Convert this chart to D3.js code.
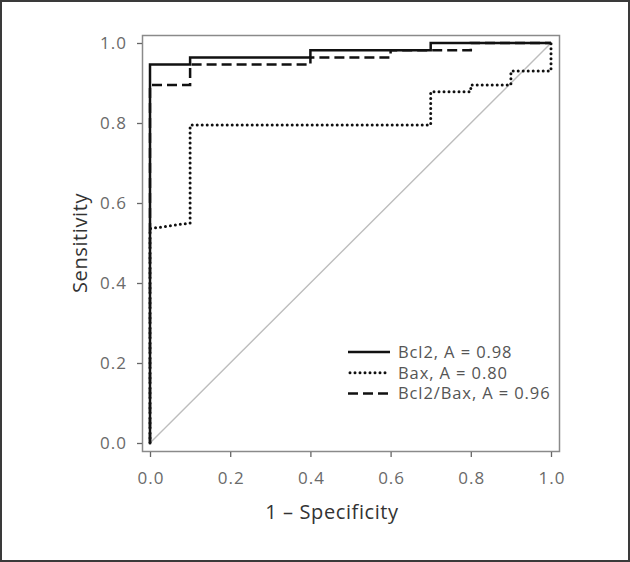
<!DOCTYPE html>
<html>
<head>
<meta charset="utf-8">
<script src="https://cdn.jsdelivr.net/npm/d3@7"></script>
<style>
  html, body { margin: 0; padding: 0; background: #fff; }
  svg { display: block; font-family: "Open Sans", sans-serif; }
</style>
</head>
<body>
<div id="chart"></div>
<script>
// ROC step curves
const bcl2X = [0, 0, 0.1, 0.1, 0.4, 0.4, 0.7, 0.7, 1.0]
const bcl2Y = [0, 0.946, 0.946, 0.964, 0.964, 0.982, 0.982, 1.0, 1.0]

const baxX = [0, 0, 0.1, 0.1, 0.7, 0.7, 0.8, 0.8, 0.9, 0.9, 1.0, 1.0]
const baxY = [0, 0.536, 0.55, 0.795, 0.795, 0.878, 0.878, 0.895, 0.895, 0.93, 0.93, 1.0]

const ratioX = [0, 0, 0.1, 0.1, 0.4, 0.4, 0.6, 0.6, 0.8, 0.8, 1.0]
const ratioY = [0, 0.895, 0.895, 0.946, 0.946, 0.964, 0.964, 0.982, 0.982, 1.0, 1.0]

const seriesNames = ["Bcl2, A = 0.98", "Bax, A = 0.80", "Bcl2/Bax, A = 0.96"]
const tickValues = [0, 0.2, 0.4, 0.6, 0.8, 1.0]

const width = 630
const height = 562
const font = "'Open Sans', sans-serif"

const svg = d3.select("#chart")
    .append("svg")
    .attr("width", width)
    .attr("height", height)

// outer frame
svg.append("rect")
    .attr("x", 1).attr("y", 1)
    .attr("width", width - 2).attr("height", height - 2)
    .attr("fill", "#fff")
    .attr("stroke", "#3a3a3a")
    .attr("stroke-width", 2)

const x = d3.scaleLinear().domain([0, 1]).range([150, 551])
const y = d3.scaleLinear().domain([0, 1]).range([443, 43])

// plot box
svg.append("rect")
    .attr("x", 142.5).attr("y", 35.5)
    .attr("width", 417).attr("height", 416)
    .attr("fill", "none")
    .attr("stroke", "#8a8a8a")
    .attr("stroke-width", 1.5)

const fmt = d3.format(".1f")

const xAxis = svg.append("g")
    .attr("transform", "translate(0,452)")
    .call(d3.axisBottom(x).tickValues(tickValues).tickFormat(fmt).tickSize(5).tickPadding(15))
const yAxis = svg.append("g")
    .attr("transform", "translate(142,0)")
    .call(d3.axisLeft(y).tickValues(tickValues).tickFormat(fmt).tickSize(5).tickPadding(10))

for (const ax of [xAxis, yAxis]) {
    ax.select(".domain").remove()
    ax.selectAll("line").attr("stroke", "#666").attr("stroke-width", 1.3)
    ax.selectAll("text")
        .attr("fill", "#6a6a6a")
        .style("font-size", "17px")
        .style("letter-spacing", "1px")
        .style("font-family", font)
}
// letter-spacing adds trailing space, nudge centred labels back
xAxis.selectAll("text").attr("dx", "0.5px")

// chance diagonal
svg.append("line")
    .attr("x1", x(0)).attr("y1", y(0))
    .attr("x2", x(1)).attr("y2", y(1))
    .attr("stroke", "#bdbdbd")
    .attr("stroke-width", 1.4)

const line = d3.line().x(d => x(d[0])).y(d => y(d[1]))
const zip = (xs, ys) => xs.map((v, i) => [v, ys[i]])

const styles = [
    { dash: null, cap: "butt" },
    { dash: "0,5", cap: "round" },
    { dash: "10,5", cap: "butt" }
]
const curves = [zip(baxX, baxY), zip(ratioX, ratioY), zip(bcl2X, bcl2Y)]
const curveStyle = [styles[1], styles[2], styles[0]]

svg.append("g")
    .selectAll("path")
    .data(curves)
    .join("path")
    .attr("d", line)
    .attr("fill", "none")
    .attr("stroke", "#111")
    .attr("stroke-width", (d, i) => i === 0 ? 3 : 2.5)
    .attr("stroke-linecap", (d, i) => curveStyle[i].cap)
    .attr("stroke-dasharray", (d, i) => curveStyle[i].dash)

// legend
const legend = svg.append("g").attr("transform", "translate(348,352)")
const items = legend.selectAll("g")
    .data(seriesNames)
    .join("g")
    .attr("transform", (d, i) => `translate(0, ${i * 20.8})`)

items.append("line")
    .attr("x1", (d, i) => i === 1 ? 2 : 0)
    .attr("x2", (d, i) => i === 1 ? 38 : 42)
    .attr("stroke", "#111")
    .attr("stroke-width", (d, i) => i === 1 ? 3 : 2.5)
    .attr("stroke-linecap", (d, i) => styles[i].cap)
    .attr("stroke-dasharray", (d, i) => styles[i].dash)

items.append("text")
    .attr("x", 50)
    .attr("dy", "0.35em")
    .attr("fill", "#555")
    .style("font-size", "16.5px")
    .style("letter-spacing", "0.9px")
    .text(d => d)

// axis titles
svg.append("text")
    .attr("x", 332).attr("y", 519)
    .attr("text-anchor", "middle")
    .attr("fill", "#333")
    .style("font-size", "20px")
    .style("letter-spacing", "0.6px")
    .text("1 \u2013 Specificity")

svg.append("text")
    .attr("transform", "translate(87,243) rotate(-90)")
    .attr("text-anchor", "middle")
    .attr("fill", "#333")
    .style("font-size", "20px")
    .style("letter-spacing", "0.6px")
    .text("Sensitivity")
</script>
</body>
</html>
